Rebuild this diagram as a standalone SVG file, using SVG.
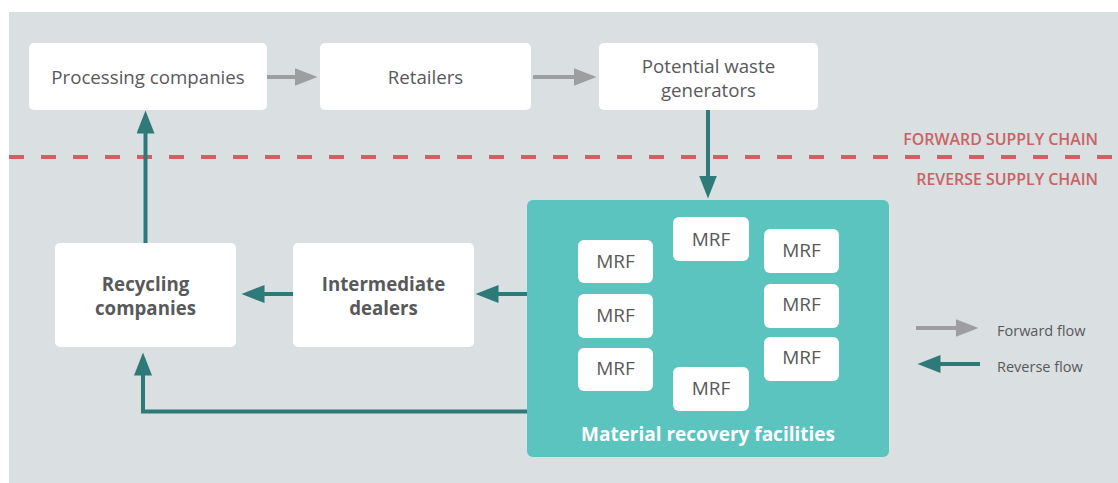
<svg xmlns="http://www.w3.org/2000/svg" width="1118" height="483" viewBox="0 0 1118 483">
<style>
.bg{fill:#dadfe1}
.node{fill:#ffffff}
.mrfbox{fill:#5bc4bf}
.t{font-family:"Open Sans","Noto Sans",sans-serif;font-size:18.7px;fill:#58595b;text-anchor:middle}
.b{font-weight:700}
.w{fill:#ffffff}
.m{font-size:19px}
.lbl{font-family:"Open Sans","Noto Sans",sans-serif;font-size:15.9px;font-weight:600;fill:#c86464;text-anchor:end}
.leg{font-family:"Open Sans","Noto Sans",sans-serif;font-size:14.5px;fill:#58595b}
.fw{stroke:#9d9ea0;stroke-width:4;fill:none}
.rv{stroke:#2e7a78;stroke-width:4;fill:none}
.dash{stroke:#c86464;stroke-width:4;stroke-dasharray:15 17;fill:none}
</style>
<defs>
<marker id="ag" markerUnits="userSpaceOnUse" markerWidth="24" markerHeight="18" refX="0.5" refY="9" orient="auto"><path d="M0,0 L23,9 L0,18 Z" fill="#9d9ea0"/></marker>
<marker id="at" markerUnits="userSpaceOnUse" markerWidth="24" markerHeight="18" refX="0.5" refY="9" orient="auto"><path d="M0,0 L23,9 L0,18 Z" fill="#2e7a78"/></marker>
</defs>
<rect class="bg" x="9" y="12" width="1109" height="471"/>
<line class="dash" x1="9" y1="157" x2="1118" y2="157"/>
<text class="lbl" x="1098" y="145">FORWARD SUPPLY CHAIN</text>
<text class="lbl" x="1098" y="185">REVERSE SUPPLY CHAIN</text>

<g id="processing">
<rect class="node" x="29" y="43" width="238" height="67" rx="5"/>
<text class="t" x="148" y="84">Processing companies</text>
</g>
<g id="retailers">
<rect class="node" x="320" y="43" width="211" height="67" rx="5"/>
<text class="t" x="425.5" y="84">Retailers</text>
</g>
<g id="generators">
<rect class="node" x="599" y="43" width="219" height="67" rx="5"/>
<text class="t" x="708.5" y="73">Potential waste</text>
<text class="t" x="708.5" y="97">generators</text>
</g>
<g id="recycling">
<rect class="node" x="55" y="243" width="181" height="104" rx="5"/>
<text class="t b" x="145.5" y="291">Recycling</text>
<text class="t b" x="145.5" y="315">companies</text>
</g>
<g id="dealers">
<rect class="node" x="293" y="243" width="181" height="104" rx="5"/>
<text class="t b" x="383.5" y="291">Intermediate</text>
<text class="t b" x="383.5" y="315">dealers</text>
</g>
<g id="mrf">
<rect class="mrfbox" x="527" y="200" width="362" height="257" rx="6"/>
<text class="t b w m" x="708" y="441">Material recovery facilities</text>
<g id="mrf1"><rect class="node" x="578" y="240" width="75" height="43" rx="6"/><text class="t m" x="615.5" y="268">MRF</text></g>
<g id="mrf2"><rect class="node" x="578" y="294" width="75" height="44" rx="6"/><text class="t m" x="615.5" y="322">MRF</text></g>
<g id="mrf3"><rect class="node" x="578" y="348" width="75" height="43" rx="6"/><text class="t m" x="615.5" y="375">MRF</text></g>
<g id="mrf4"><rect class="node" x="673" y="217" width="76" height="44" rx="6"/><text class="t m" x="711" y="246">MRF</text></g>
<g id="mrf5"><rect class="node" x="673" y="367" width="76" height="44" rx="6"/><text class="t m" x="711" y="395">MRF</text></g>
<g id="mrf6"><rect class="node" x="764" y="229" width="75" height="44" rx="6"/><text class="t m" x="801.5" y="257">MRF</text></g>
<g id="mrf7"><rect class="node" x="764" y="284" width="75" height="44" rx="6"/><text class="t m" x="801.5" y="311">MRF</text></g>
<g id="mrf8"><rect class="node" x="764" y="337" width="75" height="44" rx="6"/><text class="t m" x="801.5" y="364">MRF</text></g>
</g>

<g id="connectors">
<line class="fw" x1="267" y1="77" x2="295" y2="77" marker-end="url(#ag)"/>
<line class="fw" x1="533" y1="77" x2="574" y2="77" marker-end="url(#ag)"/>
<line class="rv" x1="708" y1="110" x2="708" y2="176" marker-end="url(#at)"/>
<line class="rv" x1="527" y1="294" x2="498" y2="294" marker-end="url(#at)"/>
<line class="rv" x1="293" y1="294" x2="264" y2="294" marker-end="url(#at)"/>
<line class="rv" x1="145.5" y1="243" x2="145.5" y2="133" marker-end="url(#at)"/>
<path class="rv" d="M527,411.5 H143 V375" marker-end="url(#at)"/>
</g>

<g id="legend">
<line class="fw" x1="916" y1="328" x2="956" y2="328" marker-end="url(#ag)"/>
<text class="leg" x="997" y="336">Forward flow</text>
<line class="rv" x1="980" y1="364" x2="940" y2="364" marker-end="url(#at)"/>
<text class="leg" x="997" y="372">Reverse flow</text>
</g>
</svg>
